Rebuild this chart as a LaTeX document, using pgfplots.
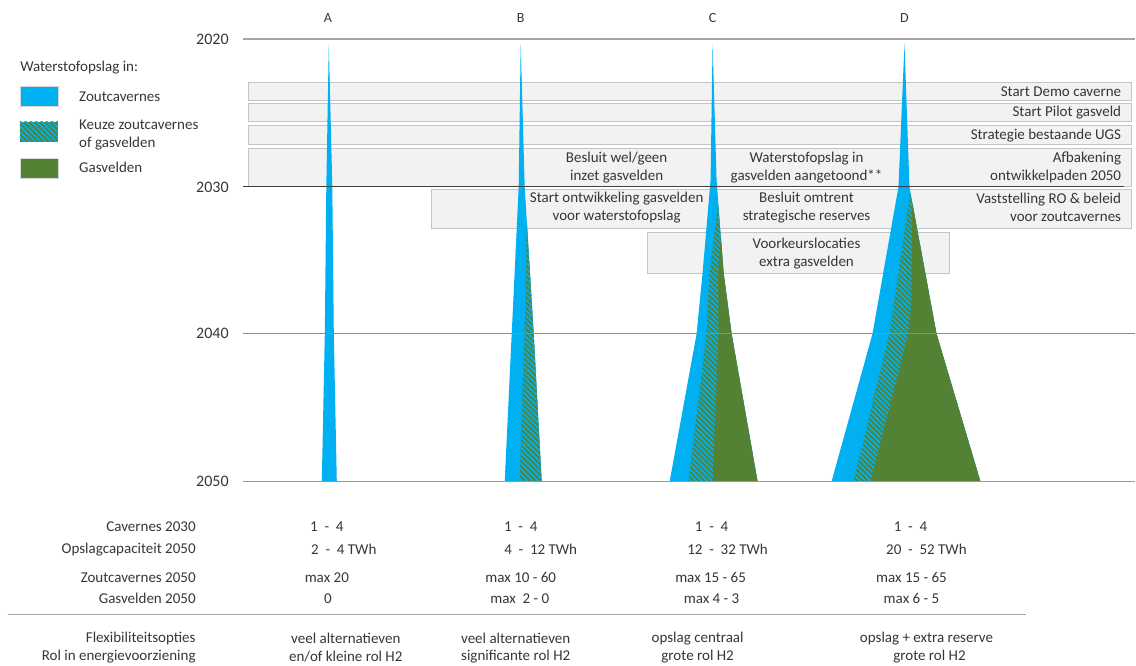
\documentclass[border=0pt]{standalone}
\usepackage{pgfplots}
\pgfplotsset{compat=1.18}
\usepackage{fontspec}
\setmainfont{Carlito}
\usetikzlibrary{patterns.meta}
\definecolor{zblue}{HTML}{00B0F0}
\definecolor{ggreen}{HTML}{548235}
\definecolor{boxfill}{HTML}{F2F2F2}
\definecolor{boxline}{HTML}{C4C4C4}
\definecolor{txt}{HTML}{363636}
\tikzset{hatch/.style={draw=none, pattern={Lines[angle=-45,distance=2.8pt,line width=1.3pt]}, pattern color=zblue}}
\begin{document}
\begin{tikzpicture}[every node/.style={font=\fontsize{11.25}{13.5}\selectfont, text=txt, inner sep=0pt}]
\begin{axis}[
  scale only axis, width=852pt, height=499.5pt,
  xmin=0, xmax=1136, ymin=0, ymax=666, y dir=reverse,
  hide axis, clip=false,
]
% invisible frame so that the picture spans the whole canvas
\addplot[draw=none] coordinates {(0,0)(1136,0)(1136,666)(0,666)} -- cycle;
% ---- gray milestone boxes
\addplot[fill=boxfill, draw=boxline, line width=0.8pt] coordinates {(249,83)(1132,83)(1132,101)(249,101)} -- cycle;
\addplot[fill=boxfill, draw=boxline, line width=0.8pt] coordinates {(249,104)(1132,104)(1132,122)(249,122)} -- cycle;
\addplot[fill=boxfill, draw=boxline, line width=0.8pt] coordinates {(249,126)(1132,126)(1132,145)(249,145)} -- cycle;
\addplot[fill=boxfill, draw=boxline, line width=0.8pt] coordinates {(249,149)(1132,149)(1132,187)(249,187)} -- cycle;
\addplot[fill=boxfill, draw=boxline, line width=0.8pt] coordinates {(432,190)(1132,190)(1132,229)(432,229)} -- cycle;
\addplot[fill=boxfill, draw=boxline, line width=0.8pt] coordinates {(648,233)(950,233)(950,274)(648,274)} -- cycle;

% ---- A
\addplot[fill=zblue, draw=none] coordinates {(329,44)(332.5,187)(334,334)(337,482)(322,482)(325,334)(326.5,187)} -- cycle;
% ---- B
\addplot[fill=zblue, draw=none] coordinates {(521,44)(525,187)(534,334)(542,482)(505,482)(512,334)(519,187)} -- cycle;
\addplot[fill=ggreen, draw=none] coordinates {(527.3,225)(534,334)(542,482)(520,482)(525,334)} -- cycle;
\addplot[hatch] coordinates {(527.3,225)(534,334)(542,482)(520,482)(525,334)} -- cycle;
% ---- C
\addplot[fill=zblue, draw=none] coordinates {(713,44)(717,180)(724,273)(732,334)(758,482)(670,482)(697,334)(703,273)(711,180)} -- cycle;
\addplot[fill=ggreen, draw=none] coordinates {(718.5,205)(724,273)(732,334)(758,482)(689,482)(707,334)(710,273)} -- cycle;
\addplot[hatch] coordinates {(718.5,205)(724,273)(732,334)(758,482)(689,482)(707,334)(710,273)} -- cycle;
\addplot[fill=ggreen, draw=none] coordinates {(721.3,237)(724,273)(732,334)(758,482)(713,482)(719,334)(718.5,273)} -- cycle;
% ---- D
\addplot[fill=zblue, draw=none] coordinates {(905,44)(910,187)(937,334)(981,482)(832,482)(873,334)(899,187)} -- cycle;
\addplot[fill=ggreen, draw=none] coordinates {(910.8,193)(937,334)(981,482)(854,482)(890,334)} -- cycle;
\addplot[hatch] coordinates {(910.8,193)(937,334)(981,482)(854,482)(890,334)} -- cycle;
\addplot[fill=ggreen, draw=none] coordinates {(912.8,203)(937,334)(981,482)(871,482)(909,334)(912,300)} -- cycle;

% ---- year lines
\addplot[draw=black!35, line width=1pt] coordinates {(243,39)(1136,39)};
\addplot[draw=black!75, line width=0.9pt] coordinates {(243,187)(1125,187)};
\addplot[draw=black!45, line width=1pt] coordinates {(243,334)(1136,334)};
\addplot[draw=black!40, line width=1pt] coordinates {(243,482)(1136,482)};
\addplot[draw=black!35, line width=1pt] coordinates {(8,615)(1027,615)};

% ---- year labels
\node[anchor=east, font=\fontsize{12}{14}\selectfont] at (axis cs:229,39) {2020};
\node[anchor=east, font=\fontsize{12}{14}\selectfont] at (axis cs:229,187) {2030};
\node[anchor=east, font=\fontsize{12}{14}\selectfont] at (axis cs:229,334) {2040};
\node[anchor=east, font=\fontsize{12}{14}\selectfont] at (axis cs:229,482) {2050};

% ---- column letters
\node[font=\fontsize{10.5}{12}\selectfont] at (axis cs:328,18) {A};
\node[font=\fontsize{10.5}{12}\selectfont] at (axis cs:521,18) {B};
\node[font=\fontsize{10.5}{12}\selectfont] at (axis cs:713,18) {C};
\node[font=\fontsize{10.5}{12}\selectfont] at (axis cs:905,18) {D};

% ---- legend
\node[anchor=west] at (axis cs:20,68) {Waterstofopslag in:};
\addplot[fill=zblue, draw=black!15, line width=0.4pt] coordinates {(20,86)(58,86)(58,106)(20,106)} -- cycle;
\addplot[fill=ggreen, draw=none] coordinates {(20,122)(58,122)(58,142)(20,142)} -- cycle;
\addplot[hatch] coordinates {(20,122)(58,122)(58,142)(20,142)} -- cycle;
\addplot[fill=ggreen, draw=black!15, line width=0.4pt] coordinates {(20,158)(58,158)(58,178)(20,178)} -- cycle;
\node[anchor=west] at (axis cs:79,97) {Zoutcavernes};
\node[anchor=west, align=left] at (axis cs:79,135.5) {Keuze zoutcavernes\\of gasvelden};
\node[anchor=west] at (axis cs:79,167) {Gasvelden};

% ---- box texts
\node[anchor=east] at (axis cs:1122,92) {Start Demo caverne};
\node[anchor=east] at (axis cs:1122,113) {Start Pilot gasveld};
\node[anchor=east] at (axis cs:1122,136) {Strategie bestaande UGS};
\node[align=center] at (axis cs:617,168) {Besluit wel/geen\\inzet gasvelden};
\node[align=center] at (axis cs:807,168) {Waterstofopslag in\\gasvelden aangetoond**};
\node[anchor=east, align=right] at (axis cs:1122,168) {Afbakening\\ontwikkelpaden 2050};
\node[align=center] at (axis cs:617,207.5) {Start ontwikkeling gasvelden\\voor waterstofopslag};
\node[align=center] at (axis cs:807,207.5) {Besluit omtrent\\strategische reserves};
\node[anchor=east, align=right] at (axis cs:1122,207.5) {Vaststelling RO \& beleid\\voor zoutcavernes};
\node[align=center] at (axis cs:807,253.5) {Voorkeurslocaties\\extra gasvelden};

% ---- table below
\node[anchor=east] at (axis cs:196,527) {Cavernes 2030};
\node[anchor=east] at (axis cs:196,550) {Opslagcapaciteit 2050};
\node[anchor=east] at (axis cs:196,578) {Zoutcavernes 2050};
\node[anchor=east] at (axis cs:196,599) {Gasvelden 2050};
\node[anchor=east] at (axis cs:196,639) {Flexibiliteitsopties};
\node[anchor=east] at (axis cs:196,657) {Rol in energievoorziening};

\node at (axis cs:327,527) {1\ \ -\ \ 4};
\node at (axis cs:344,550) {2\ \ -\ \ 4 TWh};
\node at (axis cs:327,578) {max 20};
\node at (axis cs:328,599) {0};
\node at (axis cs:346,639) {veel alternatieven};
\node at (axis cs:346,657) {en/of kleine rol H2};

\node at (axis cs:521,527) {1\ \ -\ \ 4};
\node at (axis cs:541,550) {4\ \ -\ \ 12 TWh};
\node at (axis cs:521,578) {max 10 - 60};
\node at (axis cs:520,599) {max\ \ 2 - 0};
\node at (axis cs:516,639) {veel alternatieven};
\node at (axis cs:516,657) {significante rol H2};

\node at (axis cs:712,527) {1\ \ -\ \ 4};
\node at (axis cs:728,550) {12\ \ -\ \ 32 TWh};
\node at (axis cs:711,578) {max 15 - 65};
\node at (axis cs:712,599) {max 4 - 3};
\node at (axis cs:698,639) {opslag centraal};
\node at (axis cs:698,657) {grote rol H2};

\node at (axis cs:911,527) {1\ \ -\ \ 4};
\node at (axis cs:927,550) {20\ \ -\ \ 52 TWh};
\node at (axis cs:912,578) {max 15 - 65};
\node at (axis cs:912,599) {max 6 - 5};
\node at (axis cs:927,639) {opslag + extra reserve};
\node at (axis cs:930,657) {grote rol H2};
\end{axis}
\end{tikzpicture}
\end{document}
